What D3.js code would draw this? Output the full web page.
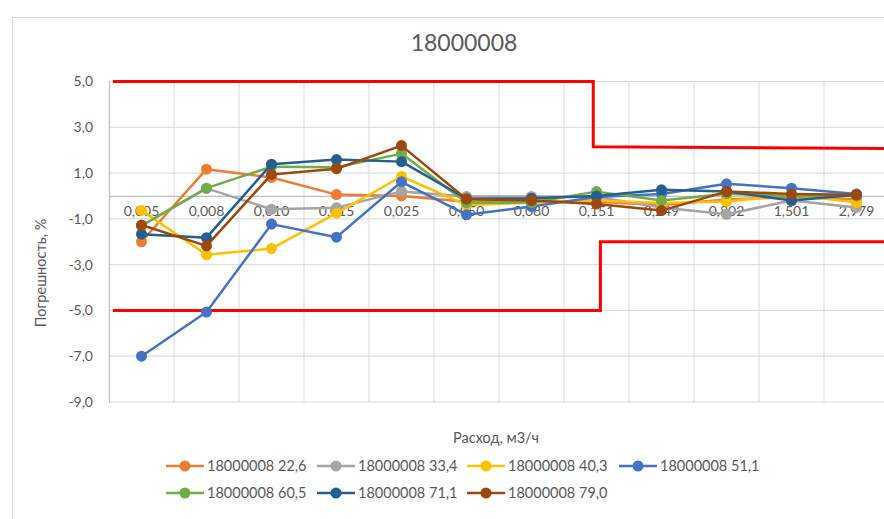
<!DOCTYPE html>
<html><head><meta charset="utf-8">
<script src="https://cdn.jsdelivr.net/npm/d3@7"></script>
<style>
html,body{margin:0;padding:0;background:#fff;}
svg{display:block;overflow:hidden;font-family:Lato, "Open Sans", sans-serif;}
</style></head><body>
<svg id="c" width="884" height="519"></svg>
<script>
const categories = ["0,005","0,008","0,010","0,015","0,025","0,050","0,080","0,151","0,249","0,802","1,501","2,979"];
const seriesNames = ["18000008 22,6","18000008 33,4","18000008 40,3","18000008 51,1","18000008 60,5","18000008 71,1","18000008 79,0"];
const s226 = [-2.0, 1.17, 0.81, 0.06, 0.0, -0.25, -0.2, -0.25, -0.4, -0.15, -0.05, -0.15];
const s334 = [-1.3, 0.33, -0.58, -0.51, 0.2, -0.02, -0.02, -0.05, -0.5, -0.8, -0.2, -0.5];
const s403 = [-0.63, -2.57, -2.3, -0.75, 0.85, -0.39, -0.3, -0.2, -0.31, -0.24, 0.05, -0.29];
const s511 = [-7.0, -5.07, -1.23, -1.8, 0.62, -0.82, -0.46, -0.05, 0.09, 0.53, 0.34, 0.09];
const s605 = [-1.3, 0.34, 1.28, 1.25, 1.85, -0.3, -0.29, 0.19, -0.2, 0.1, 0.0, 0.0];
const s711 = [-1.67, -1.82, 1.39, 1.59, 1.5, -0.12, -0.1, 0.0, 0.27, 0.2, -0.2, 0.05];
const s790 = [-1.27, -2.18, 0.94, 1.19, 2.2, -0.14, -0.2, -0.35, -0.64, 0.19, 0.09, 0.05];
const seriesValues = [s226, s334, s403, s511, s605, s711, s790];
const colors = ["#ED7D31","#A5A5A5","#FFC000","#4472C4","#70AD47","#255E91","#9E480E"];
const yTicks = [5, 3, 1, -1, -3, -5, -7, -9];
// limit lines (x in category units, 0..12)
const upperX = [0.06, 7.45, 7.45, 12];
const upperY = [5.0, 5.0, 2.15, 2.07];
const lowerX = [0.06, 7.56, 7.56, 12];
const lowerY = [-5.0, -5.0, -2.0, -2.0];
const title = "18000008";
const xTitle = "Расход, м3/ч";
const yTitle = "Погрешность, %";

const svg = d3.select("#c");
const L = 109, R = 889, T = 81.5, B = 402;
const x = d3.scaleBand().domain(categories).range([L, R]);
const xl = d3.scaleLinear().domain([0, 12]).range([L, R]);
const y = d3.scaleLinear().domain([-9, 5]).range([B, T]);
const cx = c => x(c) + x.bandwidth() / 2;
const txt = "#595959";

// chart border
svg.append("rect").attr("x", 12.5).attr("y", 17.5).attr("width", 900).attr("height", 600)
  .attr("fill", "none").attr("stroke", "#D9D9D9").attr("stroke-width", 1);

// title
svg.append("text").attr("x", 464).attr("y", 51).attr("text-anchor", "middle")
  .attr("font-size", 23).attr("fill", txt).text(title);

// gridlines horizontal
svg.append("g").selectAll("line").data(yTicks).join("line")
  .attr("x1", L).attr("x2", R).attr("y1", d => y(d)).attr("y2", d => y(d))
  .attr("stroke", "#D9D9D9").attr("stroke-width", 1);
// vertical gridlines at category boundaries
svg.append("g").selectAll("line").data(d3.range(1, 13)).join("line")
  .attr("x1", d => xl(d)).attr("x2", d => xl(d)).attr("y1", T).attr("y2", B)
  .attr("stroke", "#D9D9D9").attr("stroke-width", 1);

// y axis
const yAxis = d3.axisLeft(y).tickValues(yTicks).tickSize(0).tickPadding(16)
  .tickFormat(d => d3.format(".1f")(d).replace(".", ",").replace("−", "-"));
const gy = svg.append("g").attr("transform", `translate(${L},0)`).call(yAxis);
gy.select(".domain").attr("stroke", "#BFBFBF").attr("stroke-width", 1.3);
gy.selectAll("text").attr("font-size", 14).attr("fill", txt).attr("font-family", "Lato, sans-serif");

// zero axis with category labels
const xAxis = d3.axisBottom(x).tickSize(0).tickPadding(10);
const gx = svg.append("g").attr("transform", `translate(0,${y(0)})`).call(xAxis);
gx.select(".domain").attr("stroke", "#BFBFBF").attr("stroke-width", 1.3);
gx.selectAll("text").attr("font-size", 14).attr("fill", txt).attr("font-family", "Lato, sans-serif");

// axis titles
svg.append("text").attr("x", 496).attr("y", 443).attr("text-anchor", "middle")
  .attr("font-size", 14.5).attr("fill", txt).text(xTitle);
svg.append("text").attr("transform", "translate(46,273) rotate(-90)").attr("text-anchor", "middle")
  .attr("font-size", 14.5).attr("fill", txt).text(yTitle);

// limit lines
const lim = d3.line().x(d => xl(d[0])).y(d => y(d[1]));
svg.append("path").datum(d3.zip(upperX, upperY)).attr("d", lim)
  .attr("fill", "none").attr("stroke", "#FF0000").attr("stroke-width", 3);
svg.append("path").datum(d3.zip(lowerX, lowerY)).attr("d", lim)
  .attr("fill", "none").attr("stroke", "#FF0000").attr("stroke-width", 3);

// series
const line = d3.line().x((d, i) => cx(categories[i])).y(d => y(d));
seriesValues.forEach((vals, k) => {
  const g = svg.append("g");
  g.append("path").datum(vals).attr("d", line).attr("fill", "none")
    .attr("stroke", colors[k]).attr("stroke-width", 2.5).attr("stroke-linejoin", "round");
  g.selectAll("circle").data(vals).join("circle")
    .attr("cx", (d, i) => cx(categories[i])).attr("cy", d => y(d)).attr("r", 5.5)
    .attr("fill", colors[k]);
});

// legend
const legPos = [[166,466],[317,466],[467,466],[619,466],[166,493],[317,493],[467,493]];
seriesNames.forEach((n, k) => {
  const [lx, ly] = legPos[k];
  const g = svg.append("g").attr("transform", `translate(${lx},${ly})`);
  g.append("line").attr("x1", 0).attr("x2", 38).attr("y1", 0).attr("y2", 0)
    .attr("stroke", colors[k]).attr("stroke-width", 2.5);
  g.append("circle").attr("cx", 19).attr("cy", 0).attr("r", 5.5).attr("fill", colors[k]);
  g.append("text").attr("x", 41).attr("y", 5).attr("font-size", 14.5).attr("fill", txt).text(n);
});
</script>
</body></html>
